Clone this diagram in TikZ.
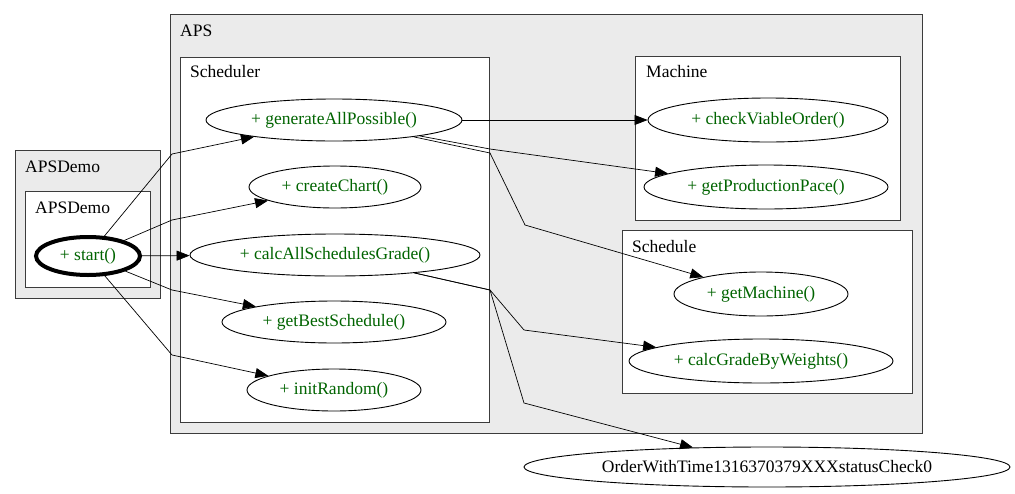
\documentclass[tikz,border=0pt]{standalone}
\usepackage{fontspec}
\setmainfont{Liberation Serif}
\usetikzlibrary{arrows.meta, positioning, shapes.geometric}
\definecolor{clusterfill}{HTML}{EBEBEB}
\definecolor{clusterline}{HTML}{3C3C3C}
\definecolor{methodgreen}{HTML}{006400}

\begin{document}
\begin{tikzpicture}[x=1pt, y=-1pt,
  method/.style={ellipse, draw, line width=0.9pt, inner sep=0pt, minimum height=42pt,
    text=methodgreen, font=\fontsize{17.5}{20}\selectfont},
  outerbox/.style={fill=clusterfill, draw=clusterline, line width=0.9pt},
  innerbox/.style={fill=white, draw=clusterline, line width=0.9pt},
  boxtitle/.style={anchor=base west, inner sep=0pt, font=\fontsize{17.5}{20}\selectfont},
  call/.style={-{Triangle[length=13pt, width=10pt]}, line width=0.7pt}]

  \useasboundingbox (0,0) rectangle (1015,493);

  % APSDemo cluster
  \draw[outerbox] (15,150) rectangle (160,298);
  \node[boxtitle] (demoouter) at (25,172) {APSDemo};
  \draw[innerbox] (25,191) rectangle (150,287);
  \node[boxtitle] (demoinner) at (35,213) {APSDemo};

  % APS cluster
  \draw[outerbox] (170,14) rectangle (922,433);
  \node[boxtitle] (aps) at (180,36) {APS};

  % Scheduler
  \draw[innerbox] (180,57) rectangle (489,422);
  \node[boxtitle] (scheduler) at (190,77) {Scheduler};

  % Machine
  \draw[innerbox] (635,56) rectangle (900,220);
  \node[boxtitle] (machine) at (646,77) {Machine};

  % Schedule
  \draw[innerbox] (622,230) rectangle (912,393);
  \node[boxtitle] (schedule) at (632,252) {Schedule};

  % methods
  \node[method, line width=4pt, minimum width=104pt, minimum height=38pt] (start) at (88,256) {+ start()};
  \node[method, minimum width=256pt] (generate) at (334,120) {+ generateAllPossible()};
  \node[method, minimum width=172pt] (chart) at (335,187) {+ createChart()};
  \node[method, minimum width=290pt] (grade) at (335,255) {+ calcAllSchedulesGrade()};
  \node[method, minimum width=224pt] (best) at (334,322) {+ getBestSchedule()};
  \node[method, minimum width=174pt] (random) at (334,390) {+ initRandom()};
  \node[method, minimum width=240pt, minimum height=44pt] (viable) at (768,120) {+ checkViableOrder()};
  \node[method, minimum width=244pt, minimum height=44pt] (pace) at (766,187) {+ getProductionPace()};
  \node[method, minimum width=174pt, minimum height=44pt] (getmachine) at (761,294) {+ getMachine()};
  \node[method, minimum width=264pt, minimum height=44pt] (weights) at (761,361) {+ calcGradeByWeights()};
  \node[method, text=black, minimum width=486pt, minimum height=40pt] (order) at (767,467) {OrderWithTime1316370379XXXstatusCheck0};

  % calls
  \draw[call] (start) -- (172,154) -- (generate);
  \draw[call] (start) -- (172,220) -- (chart);
  \draw[call] (start) -- (grade);
  \draw[call] (start) -- (172,290) -- (best);
  \draw[call] (start) -- (172,355) -- (random);
  \draw[call] (generate) -- (viable);
  \draw[call] (generate) -- (490,149) -- (pace);
  \draw[call] (generate) -- (490,153) -- (525,225) -- (getmachine);
  \draw[call] (grade) -- (490,290) -- (524,330) -- (weights);
  \draw[call] (grade) -- (490,290) -- (524,403) -- (order);

\end{tikzpicture}
\end{document}
